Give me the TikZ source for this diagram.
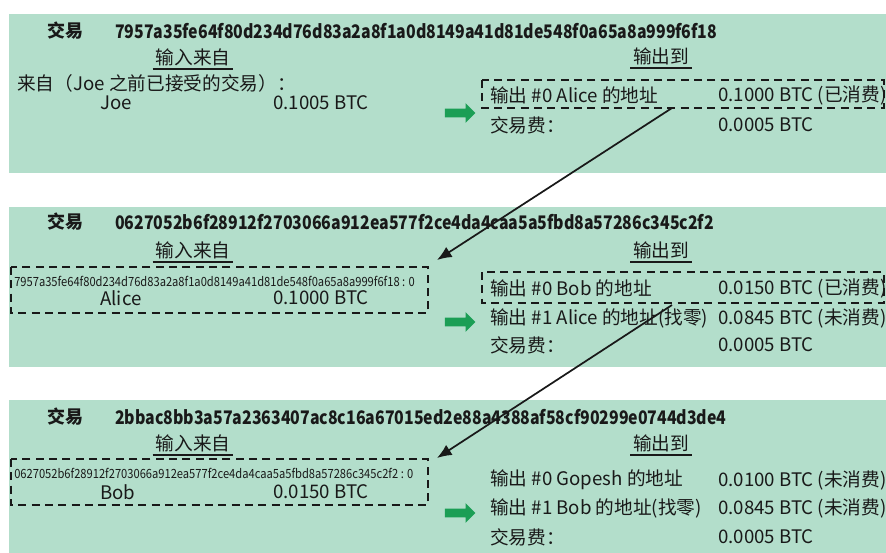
\documentclass[tikz,border=0pt]{standalone}
\usepackage{fontspec}
\setmainfont{Noto Sans CJK SC}
\usetikzlibrary{arrows.meta,shapes.arrows}
\pgfdeclarelayer{bg}
\pgfsetlayers{bg,main}
\definecolor{panel}{RGB}{179,222,203}
\definecolor{goarrow}{RGB}{27,158,85}
\definecolor{ink}{RGB}{25,25,25}
\tikzset{
  txt/.style={anchor=west,inner sep=0pt,text=ink,font=\fontsize{14}{16}\selectfont},
  hash/.style={anchor=west,inner sep=0pt,text=ink,font=\bfseries\fontsize{14}{16}\selectfont},
  title/.style={inner sep=0pt,text=ink,font=\bfseries\fontsize{13.5}{16}\selectfont},
  head/.style={inner xsep=2pt,inner ysep=2pt,text=ink,font=\fontsize{14}{16}\selectfont},
  prev/.style={anchor=west,inner sep=0pt,text=ink,font=\fontsize{9.5}{11}\selectfont},
  rule/.style={ink,line width=1.5pt},
  slot/.style={ink,line width=1.3pt,dash pattern=on 6pt off 4pt},
  go/.style={single arrow,fill=goarrow,draw=none,inner sep=3pt,
    minimum height=23pt,minimum width=14.5pt,single arrow head extend=4.2pt},
  link/.style={ink,line width=1.3pt,-{Latex[length=11pt,width=9pt]}}
}
\newcommand{\narrow}[2][0.88]{\scalebox{#1}[1]{#2}}
\begin{document}
\begin{tikzpicture}[x=0.75pt,y=-0.75pt]
        \useasboundingbox (0,0) rectangle (886,553);
        \begin{pgfonlayer}{bg}
                \fill[panel] (9,14) rectangle (886,173);
                \fill[panel] (9,207) rectangle (886,367);
                \fill[panel] (9,400) rectangle (886,553);
        \end{pgfonlayer}
        % first transaction
        \node (t1) [title] at (65,31) {交易};
        \node (h1) [hash] at (115,31) {\narrow[0.85]{7957a35fe64f80d234d76d83a2a8f1a0d8149a41d81de548f0a65a8a999f6f18}};
        \node (in1) [head] at (193,57) {输入来自};
        \node (out1) [head] at (661,56) {输出到};
        \draw[rule] (in1.south west) -- (in1.south east);
        \draw[rule] (out1.south west) -- (out1.south east);
        \node (src1) [txt] at (17,83) {来自（Joe 之前已接受的交易）：};
        \node (who1) [txt] at (100,103) {Joe};
        \node (amt1) [txt] at (273,103) {0.1005 BTC};
        \node (g1) [go] at (458,113) {};
        \node (o10) [txt] at (490,95) {输出 \#0 Alice 的地址};
        \node (v10) [txt] at (718,95) {0.1000 BTC (已消费)};
        \node (f1) [txt] at (490,125) {交易费：};
        \node (vf1) [txt] at (718,125) {0.0005 BTC};
        \coordinate (b1a) at (482,80);
        \coordinate (b1b) at (884,108);
        \draw[slot] (b1a) rectangle (b1b);
        % second transaction
        \node (t2) [title] at (65,222) {交易};
        \node (h2) [hash] at (115,222) {\narrow[0.85]{0627052b6f28912f2703066a912ea577f2ce4da4caa5a5fbd8a57286c345c2f2}};
        \node (in2) [head] at (193,250) {输入来自};
        \node (out2) [head] at (661,250) {输出到};
        \draw[rule] (in2.south west) -- (in2.south east);
        \draw[rule] (out2.south west) -- (out2.south east);
        \coordinate (a2a) at (11,267);
        \coordinate (a2b) at (428,313);
        \draw[slot] (a2a) rectangle (a2b);
        \node (src2) [prev] at (14,281) {\narrow{7957a35fe64f80d234d76d83a2a8f1a0d8149a41d81de548f0a65a8a999f6f18 : 0}};
        \node (who2) [txt] at (100,298) {Alice};
        \node (amt2) [txt] at (273,298) {0.1000 BTC};
        \node (g2) [go] at (458,322) {};
        \node (o20) [txt] at (490,288) {输出 \#0 Bob 的地址};
        \node (v20) [txt] at (718,288) {0.0150 BTC (已消费)};
        \node (o21) [txt] at (490,318) {输出 \#1 Alice 的地址(找零)};
        \node (v21) [txt] at (718,318) {0.0845 BTC (未消费)};
        \node (f2) [txt] at (490,345) {交易费：};
        \node (vf2) [txt] at (718,345) {0.0005 BTC};
        \coordinate (b2a) at (482,272);
        \coordinate (b2b) at (884,303);
        \draw[slot] (b2a) rectangle (b2b);
        % third transaction
        \node (t3) [title] at (65,417) {交易};
        \node (h3) [hash] at (115,417) {\narrow[0.85]{2bbac8bb3a57a2363407ac8c16a67015ed2e88a4388af58cf90299e0744d3de4}};
        \node (in3) [head] at (193,443) {输入来自};
        \node (out3) [head] at (661,443) {输出到};
        \draw[rule] (in3.south west) -- (in3.south east);
        \draw[rule] (out3.south west) -- (out3.south east);
        \coordinate (a3a) at (11,459);
        \coordinate (a3b) at (428,505);
        \draw[slot] (a3a) rectangle (a3b);
        \node (src3) [prev] at (14,473) {\narrow{0627052b6f28912f2703066a912ea577f2ce4da4caa5a5fbd8a57286c345c2f2 : 0}};
        \node (who3) [txt] at (100,492) {Bob};
        \node (amt3) [txt] at (273,492) {0.0150 BTC};
        \node (g3) [go] at (458,513) {};
        \node (o30) [txt] at (490,480) {输出 \#0 Gopesh 的地址};
        \node (v30) [txt] at (718,480) {0.0100 BTC (未消费)};
        \node (o31) [txt] at (490,508) {输出 \#1 Bob 的地址(找零)};
        \node (v31) [txt] at (718,508) {0.0845 BTC (未消费)};
        \node (f3) [txt] at (490,537) {交易费：};
        \node (vf3) [txt] at (718,537) {0.0005 BTC};
        % spent outputs feed the next inputs
        \coordinate (s1) at (672,108);
        \coordinate (e1) at (437,260);
        \coordinate (s2) at (672,305);
        \coordinate (e2) at (437,458);
        \draw[link] (s1) -- (e1);
        \draw[link] (s2) -- (e2);
\end{tikzpicture}
\end{document}
